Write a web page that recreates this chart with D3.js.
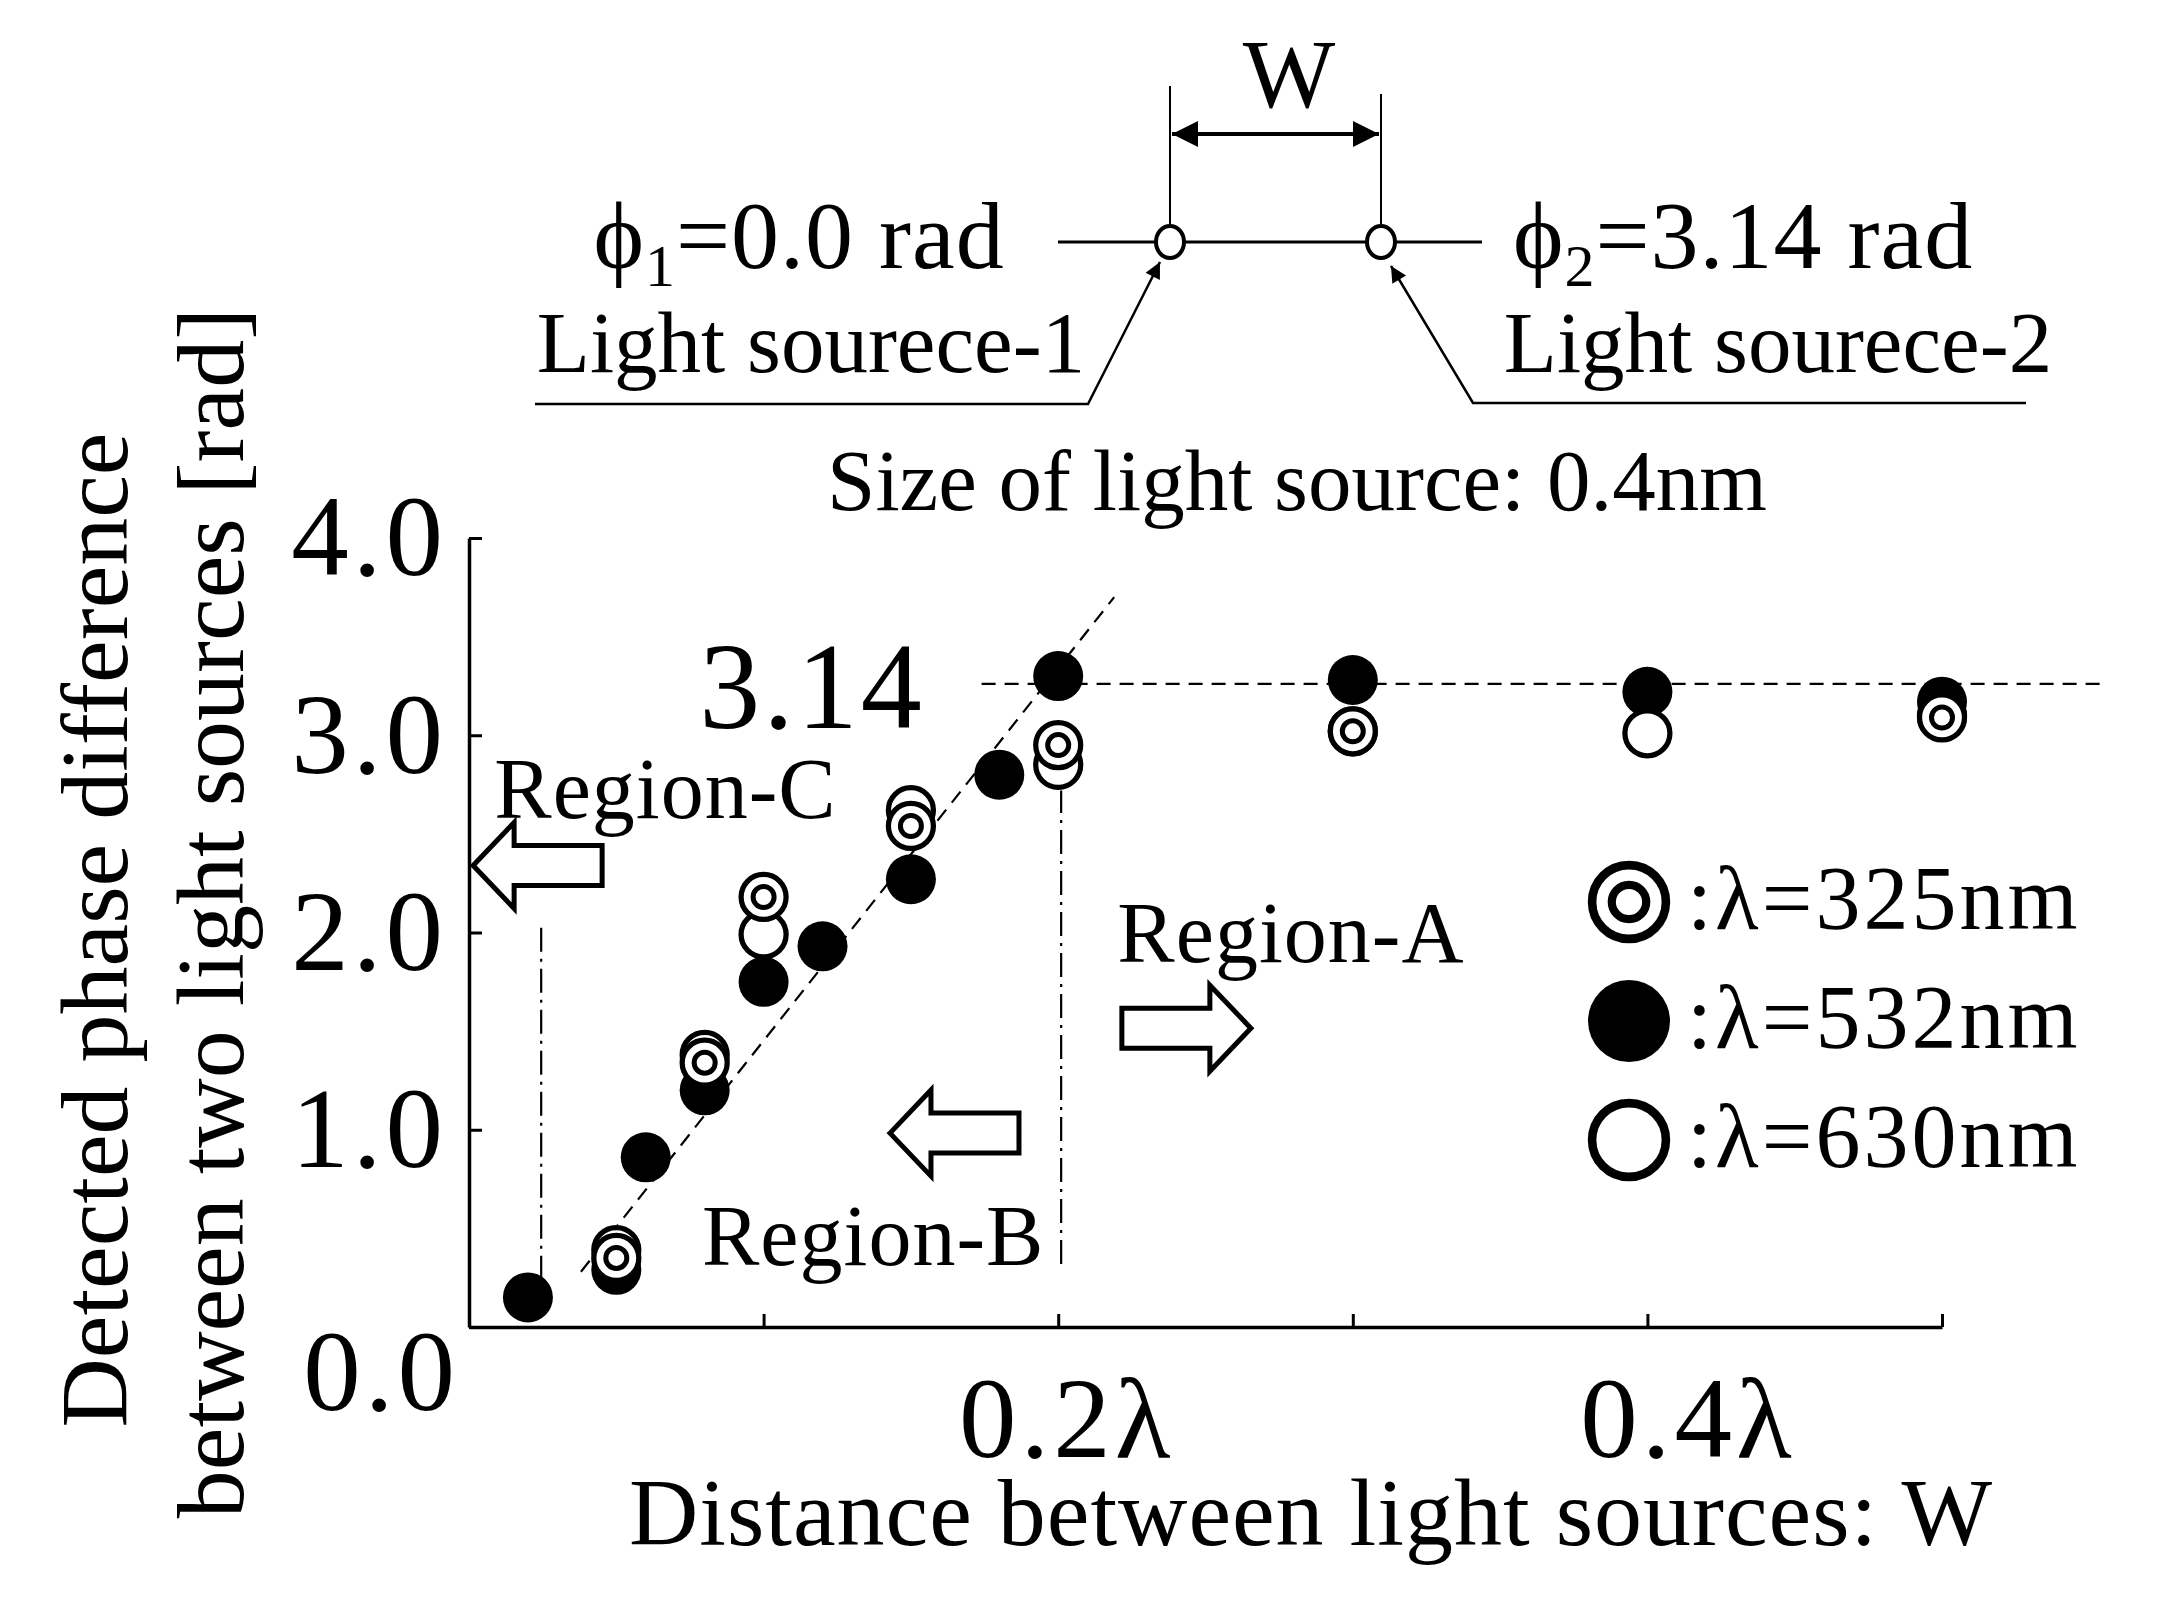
<!DOCTYPE html>
<html>
<head>
<meta charset="utf-8">
<script src="https://cdn.jsdelivr.net/npm/d3@7"></script>
<style>
  body { margin: 0; background: #fff; }
  text { font-family: "Liberation Serif", "Times New Roman", serif; fill: #000; }
</style>
</head>
<body>
<svg id="chart" width="2175" height="1615"></svg>
<script>
// ── values (x in units of λ, y in rad) ──
const x532 = [0.02, 0.05, 0.06, 0.08, 0.10, 0.12, 0.15, 0.18, 0.20, 0.30, 0.40, 0.50];
const y532 = [0.15, 0.29, 0.86, 1.20, 1.75, 1.93, 2.27, 2.80, 3.30, 3.28, 3.22, 3.17];
const x630 = [0.05, 0.08, 0.10, 0.15, 0.20, 0.30, 0.40, 0.50];
const y630 = [0.39, 1.38, 1.99, 2.62, 2.85, 3.02, 3.01, 3.10];
const x325 = [0.05, 0.08, 0.10, 0.15, 0.20, 0.30, 0.50];
const y325 = [0.35, 1.34, 2.18, 2.54, 2.95, 3.02, 3.09];

const yTicks = [0, 1, 2, 3, 4];
const xTicks = [0.1, 0.2, 0.3, 0.4, 0.5];
const xTickLabels = { 0.2: "0.2λ", 0.4: "0.4λ" };

// reference lines (data units)
const piLevel = [0.174, 0.555, 3.26];          // x0, x1, y  (labelled 3.14)
const trend = [[0.038, 0.28], [0.219, 3.70]];  // dashed fit
const boundC = [0.0245, 0.24, 2.04];           // x, y0, y1
const boundB = [0.201, 0.32, 2.72];

const legendItems = ["325", "532", "630"];

// ── setup ──
const svg = d3.select("#chart");
svg.append("rect").attr("width", 2175).attr("height", 1615).attr("fill", "#fff");

const x = d3.scaleLinear().domain([0, 0.5]).range([469, 1942]);
const y = d3.scaleLinear().domain([0, 4]).range([1327, 538]);

const defs = svg.append("defs");
defs.append("marker").attr("id", "head")
  .attr("viewBox", "0 0 10 10").attr("refX", 10).attr("refY", 5)
  .attr("markerUnits", "userSpaceOnUse").attr("markerWidth", 30).attr("markerHeight", 26)
  .attr("orient", "auto-start-reverse")
  .append("path").attr("d", "M0,0 L10,5 L0,10 Z").attr("fill", "#000");
defs.append("marker").attr("id", "headS")
  .attr("viewBox", "0 0 10 10").attr("refX", 10).attr("refY", 5)
  .attr("markerUnits", "userSpaceOnUse").attr("markerWidth", 34).attr("markerHeight", 16)
  .attr("orient", "auto")
  .append("path").attr("d", "M0,0 L10,5 L0,10 Z").attr("fill", "#000");

// ── axes ──
const yAxis = svg.append("g").attr("transform", `translate(${x(0)},0)`)
  .call(d3.axisLeft(y).tickValues(yTicks).tickSize(-13).tickSizeOuter(0)
    .tickPadding(22).tickFormat(d3.format(".1f")));
const xAxis = svg.append("g").attr("transform", `translate(0,${y(0)})`)
  .call(d3.axisBottom(x).tickValues(xTicks).tickSize(-13).tickSizeOuter(0)
    .tickPadding(48).tickFormat(d => xTickLabels[d] || ""));

[yAxis, xAxis].forEach(a => {
  a.select(".domain").attr("stroke", "#000").attr("stroke-width", 3.5);
  a.selectAll(".tick line").attr("stroke", "#000").attr("stroke-width", 3);
  a.selectAll("text").attr("font-family", null).attr("font-size", 115)
    .style("letter-spacing", "4px");
});
yAxis.selectAll(".tick text").filter(d => d === 0).attr("dx", 12).attr("dy", "0.72em");
xAxis.selectAll(".tick text").filter(d => d === 0.4).attr("dx", 40);
xAxis.selectAll(".tick text").filter(d => d === 0.2).attr("dx", 8);

// ── reference lines ──
const line = d3.line().x(d => x(d[0])).y(d => y(d[1]));
svg.append("path").attr("d", line([[piLevel[0], piLevel[2]], [piLevel[1], piLevel[2]]]))
  .attr("stroke", "#000").attr("stroke-width", 2.2).attr("stroke-dasharray", "14,9").attr("fill", "none");
svg.append("path").attr("d", line(trend))
  .attr("stroke", "#000").attr("stroke-width", 2.2).attr("stroke-dasharray", "14,9").attr("fill", "none");
[boundC, boundB].forEach(b => {
  svg.append("path").attr("d", line([[b[0], b[1]], [b[0], b[2]]]))
    .attr("stroke", "#000").attr("stroke-width", 2.2).attr("stroke-dasharray", "24,7,3,7").attr("fill", "none");
});

svg.append("text").attr("x", 812).attr("y", 728).attr("text-anchor", "middle")
  .attr("font-size", 122).style("letter-spacing", "3px").text("3.14");

// ── region arrows & labels ──
function blockArrow(tx, ty, dir, len, headLen, headHalf, shaftHalf) {
  const bx = tx - dir * headLen, ex = tx - dir * len;
  return `M${tx},${ty} L${bx},${ty - headHalf} L${bx},${ty - shaftHalf} L${ex},${ty - shaftHalf}` +
    ` L${ex},${ty + shaftHalf} L${bx},${ty + shaftHalf} L${bx},${ty + headHalf} Z`;
}
const regionArrows = [
  { tx: 0.0014, ty: 2.34, dir: -1 },
  { tx: 0.1429, ty: 0.983, dir: -1 },
  { tx: 0.2654, ty: 1.515, dir: 1 }
];
regionArrows.forEach(a => {
  svg.append("path").attr("d", blockArrow(x(a.tx), y(a.ty), a.dir, 129, 41, 43, 20))
    .attr("fill", "#fff").attr("stroke", "#000").attr("stroke-width", 5).attr("stroke-linejoin", "miter");
});
const regionLabels = [
  { t: "Region-C", cx: 0.0667, by: 2.58 },
  { t: "Region-B", cx: 0.1372, by: 0.314 },
  { t: "Region-A", cx: 0.2790, by: 1.85 }
];
regionLabels.forEach(r => {
  svg.append("text").attr("x", x(r.cx)).attr("y", y(r.by)).attr("text-anchor", "middle")
    .attr("font-size", 86).style("letter-spacing", "1px").text(r.t);
});

// ── markers ──
function drawMarker(g, kind, cx, cy, r) {
  if (kind === "532") {
    g.append("circle").attr("cx", cx).attr("cy", cy).attr("r", r).attr("fill", "#000");
  } else if (kind === "630") {
    g.append("circle").attr("cx", cx).attr("cy", cy).attr("r", r - r * 0.1)
      .attr("fill", "#fff").attr("stroke", "#000").attr("stroke-width", r * 0.21);
  } else {
    g.append("circle").attr("cx", cx).attr("cy", cy).attr("r", r - r * 0.1)
      .attr("fill", "#fff").attr("stroke", "#000").attr("stroke-width", r * 0.21);
    g.append("circle").attr("cx", cx).attr("cy", cy).attr("r", r * 0.42)
      .attr("fill", "#fff").attr("stroke", "#000").attr("stroke-width", r * 0.2);
  }
}
const pts = svg.append("g");
x532.forEach((v, i) => drawMarker(pts, "532", x(v), y(y532[i]), 25));
x630.forEach((v, i) => drawMarker(pts, "630", x(v), y(y630[i]), 25));
x325.forEach((v, i) => drawMarker(pts, "325", x(v), y(y325[i]), 25));

// ── legend ──
const lg = svg.append("g").attr("transform", "translate(1629,902)");
legendItems.forEach((k, i) => {
  drawMarker(lg, k, 0, i * 119, 41);
  lg.append("text").attr("x", 58).attr("y", i * 119 + 27).attr("font-size", 90)
    .style("letter-spacing", "3px").text(`:λ=${k}nm`);
});

// ── axis titles ──
svg.append("text").attr("x", 1311).attr("y", 1545).attr("text-anchor", "middle")
  .attr("font-size", 96).style("letter-spacing", "1px").text("Distance between light sources: W");
svg.append("text").attr("transform", "translate(127,930) rotate(-90)").attr("text-anchor", "middle")
  .attr("font-size", 96).text("Detected phase difference");
svg.append("text").attr("transform", "translate(243,913) rotate(-90)").attr("text-anchor", "middle")
  .attr("font-size", 96).text("between two light sources [rad]");

// ── schematic at the top ──
const diag = svg.append("g");
const s1 = 1170, s2 = 1381, sy = 242;
diag.append("line").attr("x1", 1058).attr("x2", 1482).attr("y1", sy).attr("y2", sy)
  .attr("stroke", "#000").attr("stroke-width", 3);
[[s1, 86], [s2, 94]].forEach(([sx, y0]) => {
  diag.append("line").attr("x1", sx).attr("x2", sx).attr("y1", y0).attr("y2", sy - 18)
    .attr("stroke", "#000").attr("stroke-width", 2);
});
diag.append("line").attr("x1", s1 + 2).attr("x2", s2 - 2).attr("y1", 134).attr("y2", 134)
  .attr("stroke", "#000").attr("stroke-width", 4)
  .attr("marker-start", "url(#head)").attr("marker-end", "url(#head)");
[s1, s2].forEach(sx => {
  diag.append("ellipse").attr("cx", sx).attr("cy", sy).attr("rx", 14).attr("ry", 16)
    .attr("fill", "#fff").attr("stroke", "#000").attr("stroke-width", 4);
});
diag.append("text").attr("x", 1289).attr("y", 107).attr("text-anchor", "middle")
  .attr("font-size", 98).text("W");

function phiLabel(cx, sub, rest) {
  const t = diag.append("text").attr("x", cx).attr("y", 268).attr("text-anchor", "middle")
    .attr("font-size", 96).style("letter-spacing", "1px");
  t.append("tspan").text("ϕ");
  t.append("tspan").attr("font-size", 60).attr("dy", 18).text(sub);
  t.append("tspan").attr("dy", -18).text(rest);
}
phiLabel(799, "1", "=0.0 rad");
phiLabel(1743, "2", "=3.14 rad");

diag.append("text").attr("x", 811).attr("y", 372).attr("text-anchor", "middle")
  .attr("font-size", 87).text("Light sourece-1");
diag.append("text").attr("x", 1778).attr("y", 372).attr("text-anchor", "middle")
  .attr("font-size", 87).text("Light sourece-2");

diag.append("path").attr("d", "M535,404 L1088,404 L1160,262").attr("fill", "none")
  .attr("stroke", "#000").attr("stroke-width", 2.5).attr("marker-end", "url(#headS)");
diag.append("path").attr("d", "M2026,403 L1473,403 L1391,266").attr("fill", "none")
  .attr("stroke", "#000").attr("stroke-width", 2.5).attr("marker-end", "url(#headS)");

diag.append("text").attr("x", 1297).attr("y", 510).attr("text-anchor", "middle")
  .attr("font-size", 87).text("Size of light source: 0.4nm");
</script>
</body>
</html>
